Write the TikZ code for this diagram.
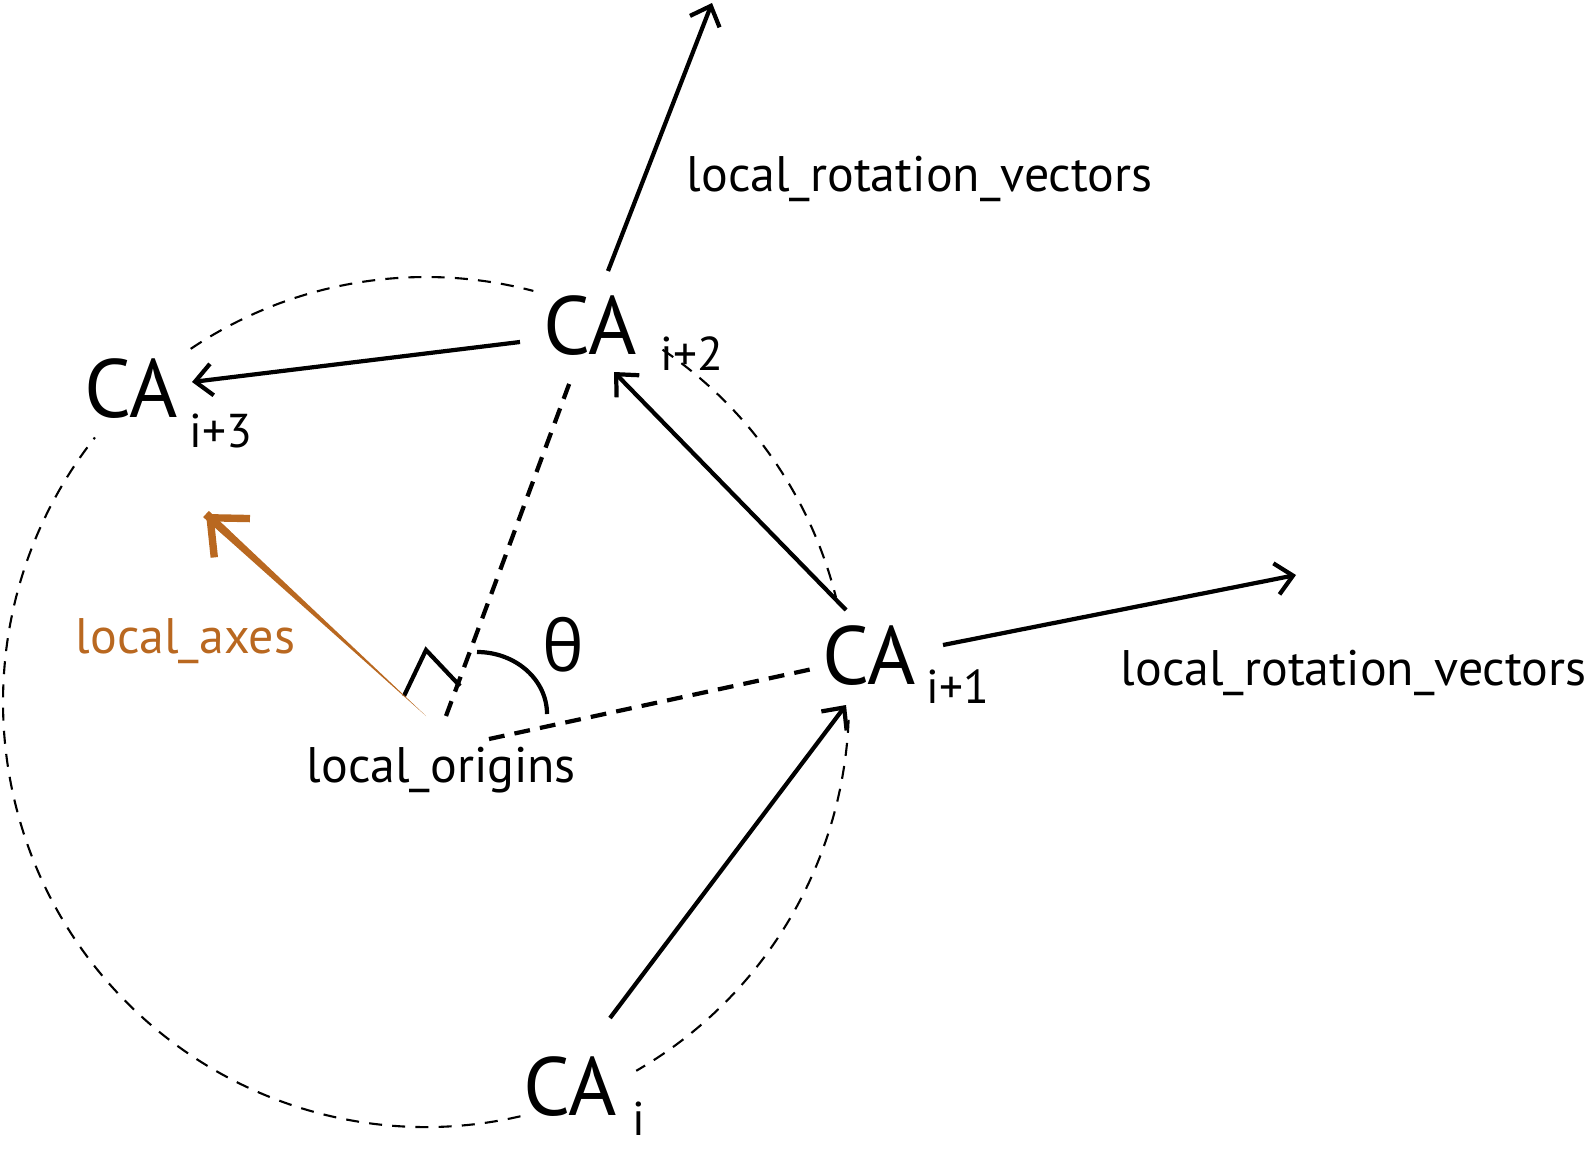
\documentclass[tikz,border=0pt]{standalone}
\usepackage{fontspec}
\setmainfont{PT Sans}
\newfontfamily\greekfont{Open Sans}
\usepackage{tikz}
\usetikzlibrary{arrows.meta,calc}
\definecolor{axisbrown}{RGB}{185,104,32}

\begin{document}
\begin{tikzpicture}[x=0.01cm, y=-0.01cm,
  ca/.style={inner sep=0pt, anchor=base west, font=\fontsize{23.5}{24}\selectfont},
  sub/.style={inner sep=0pt, anchor=base west, font=\fontsize{13.5}{14}\selectfont},
  lbl/.style={inner sep=0pt, anchor=base west, font=\fontsize{14.2}{16}\selectfont},
  vec/.style={line width=1.2pt, -{Straight Barb[length=4.8pt, width=9pt]}},
  ring/.style={line width=0.6pt, dash pattern=on 3.7pt off 2.9pt},
  guide/.style={line width=1.2pt, dash pattern=on 4.5pt off 2.9pt}]
  \useasboundingbox (0,0) rectangle (1586,1149);

  % dashed ring through the residues
  \coordinate (rc) at (426,702);
  \foreach \a/\b in {-123.8/-75.3, -56/-14.3, 2.4/60.2, 77.1/218.5}{
    \draw[ring] (rc) ++(\a:423 and 425)
      arc[start angle=\a, end angle=\b, x radius=423, y radius=425];
  }

  % residues
  \node[ca] (ca0) at (523,1115){CA};
  \node[sub] (s0) at (632,1135){i};
  \node[ca] (ca1) at (822,684){CA};
  \node[sub] (s1) at (926,703){i+1};
  \node[ca] (ca2) at (543,354){CA};
  \node[sub] (s2) at (660,370){i+2};
  \node[ca] (ca3) at (84,417){CA};
  \node[sub] (s3) at (189,447){i+3};

  % labels
  \node[lbl] (rottop) at (686,192){local\_rotation\_vectors};
  \node[lbl] (rotright) at (1120,685){local\_rotation\_vectors};
  \node[lbl, text=axisbrown] (axes) at (75,653){local\_axes};
  \node[lbl] (origins) at (306,782){local\_origins};
  \node[inner sep=0pt, font=\greekfont\fontsize{20}{20}\selectfont]
    (theta) at (563,645){θ};

  % ends of the vectors
  \coordinate (v0a) at (610,1018);  \coordinate (v0b) at (846,705);
  \coordinate (v1a) at (846,610);   \coordinate (v1b) at (614,372);
  \coordinate (v2a) at (520,342);   \coordinate (v2b) at (192,382);
  \coordinate (v3a) at (943,645);   \coordinate (v3b) at (1296,575);
  \coordinate (v4a) at (608,271);   \coordinate (v4b) at (712,3);

  \draw[vec] (v0a) -- (v0b);
  \draw[vec] (v1a) -- (v1b);
  \draw[vec] (v2a) -- (v2b);
  \draw[vec] (v3a) -- (v3b);
  \draw[vec] (v4a) -- (v4b);

  % local origin, guides and angle
  \coordinate (up0) at (446,716);  \coordinate (up1) at (571,379);
  \coordinate (rt0) at (489,739);  \coordinate (rt1) at (817,668);
  \draw[guide] (up0) -- (up1);
  \draw[guide] (rt0) -- (rt1);
  \draw[line width=1.2pt] (404,696) -- (426,650) -- (460,686);
  \draw[line width=1.2pt] (477,652)
    arc[start angle=-90, end angle=0, x radius=70, y radius=62];

  % local axis
  \coordinate (axtail) at (426,716);
  \coordinate (axtip) at (206,514);
  \fill[axisbrown] (axtail) -- ($(axtip)!1.2pt!90:(axtail)$)
    -- ($(axtip)!1.2pt!-90:(axtail)$) -- cycle;
  \draw[axisbrown, line width=2.1pt,
        -{Straight Barb[length=8.5pt, width=15pt]}]
    ($(axtip)!0.1!(axtail)$) -- (axtip);
\end{tikzpicture}
\end{document}
